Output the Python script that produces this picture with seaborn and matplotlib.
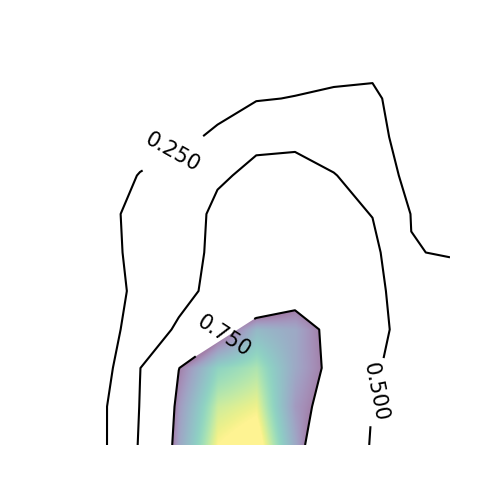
import numpy as np
import matplotlib
matplotlib.use("Agg")
import matplotlib.pyplot as plt
from matplotlib.path import Path
import seaborn as sns

# grid coordinates (columns / rows of the field)
x_vals = np.arange(11)
y_vals = np.arange(11)

# field values, bottom row first
row0 = [0.10, 0.203, 0.519, 0.797, 0.95, 0.98, 0.80, 0.608, 0.49, 0.40, 0.36]
row1 = [0.09, 0.205, 0.506, 0.78, 0.92, 0.94, 0.78, 0.712, 0.496, 0.38, 0.34]
row2 = [0.08, 0.144, 0.497, 0.748, 0.87, 0.90, 0.80, 0.7275, 0.554, 0.32, 0.30]
row3 = [0.06, 0.10, 0.40, 0.523, 0.70, 0.825, 0.80, 0.72, 0.62, 0.35, 0.30]
row4 = [0.06, 0.10, 0.327, 0.45, 0.548, 0.575, 0.70, 0.66, 0.59, 0.33, 0.32]
row5 = [0.06, 0.10, 0.373, 0.45, 0.526, 0.60, 0.64, 0.60, 0.565, 0.256, 0.24]
row6 = [0.06, 0.10, 0.40, 0.47, 0.512, 0.58, 0.60, 0.58, 0.493, 0.245, 0.15]
row7 = [0.05, 0.10, 0.263, 0.36, 0.493, 0.511, 0.56, 0.505, 0.449, 0.156, 0.12]
row8 = [0.04, 0.07, 0.12, 0.20, 0.283, 0.49, 0.462, 0.44, 0.36, 0.104, 0.05]
row9 = [0.03, 0.05, 0.08, 0.12, 0.18, 0.232, 0.26, 0.27, 0.30, 0.10, 0.05]
row10 = [0.02, 0.03, 0.05, 0.08, 0.12, 0.15, 0.117, 0.203, 0.175, 0.05, 0.03]

levels = [0.25, 0.5, 0.75]
label_spots = [(2.83, 7.61), (8.19, 1.35), (4.11, 2.91)]

Z = np.array([row0, row1, row2, row3, row4, row5, row6, row7, row8, row9, row10])

sns.set_style("white")

fig, ax = plt.subplots(figsize=(5, 5), dpi=100)

cs = ax.contour(x_vals, y_vals, Z, levels=levels, colors="black", linewidths=1.5)
labels = ax.clabel(cs, fontsize=15, fmt="%.3f", manual=label_spots, inline=True)
# labels lean the other way in the original
for t in labels:
    t.set_rotation(-t.get_rotation())

# image of the field, only shown inside the top contour
im = ax.imshow(Z, origin="lower", extent=(-0.5, 10.5, -0.5, 10.5),
               cmap="viridis", vmin=0.75, vmax=0.95, alpha=0.5,
               interpolation="bilinear", aspect="auto", zorder=0)
top = cs.get_paths()[2]
im.set_clip_path(Path(top.vertices), ax.transData)

ax.set_xlim(0, 10)
ax.set_ylim(0, 10)
ax.axis("off")

plt.savefig("out.png", dpi=100)
